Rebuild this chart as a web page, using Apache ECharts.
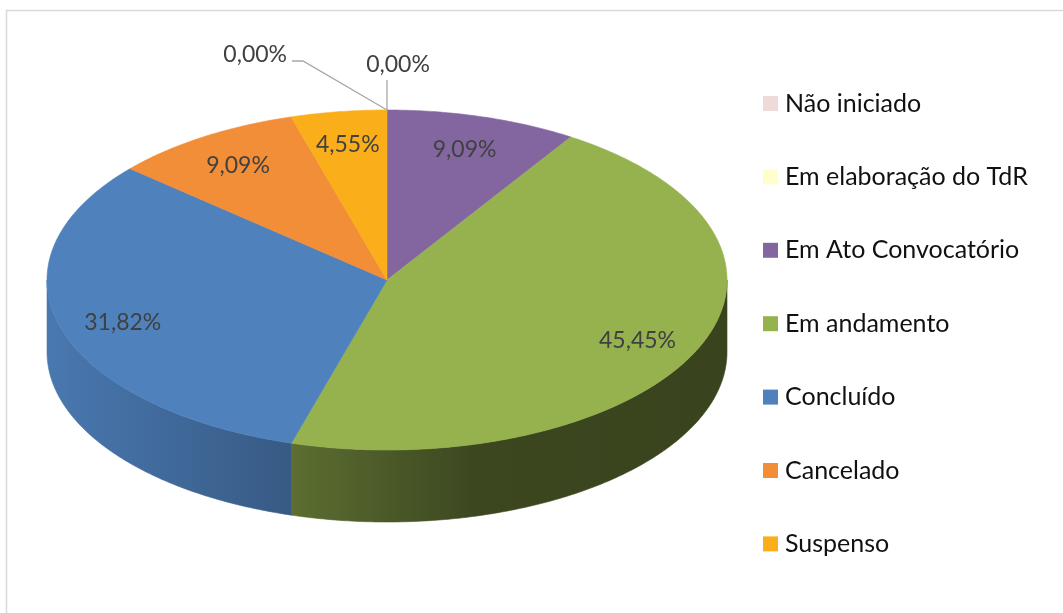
<!DOCTYPE html>
<html>
<head>
<meta charset="utf-8">
<script src="https://cdn.jsdelivr.net/npm/echarts@6/dist/echarts.min.js"></script>
<style>
html,body{margin:0;padding:0;background:#fff;}
#chart{width:1063px;height:613px;}
</style>
</head>
<body>
<div id="chart"></div>
<script>
// ---- data ----
const categories = ['Não iniciado', 'Em elaboração do TdR', 'Em Ato Convocatório', 'Em andamento', 'Concluído', 'Cancelado', 'Suspenso'];
const shares = [0, 0, 9.09, 45.45, 31.82, 9.09, 4.55];

// ---- styles ----
const colors = ['#F0D9D9', '#FFFFCC', '#8366A0', '#95B24F', '#4F81BD', '#F28D38', '#FAAF1A'];
const sideShades = {
  'Em andamento': [[0, 0.62], [0.42, 0.40], [1, 0.38]],
  'Concluído': [[0, 0.93], [1, 0.70]]
};
const FONT = 'Lato, "Open Sans", sans-serif';

function shade(hex, f) {
  const n = parseInt(hex.slice(1), 16);
  const r = Math.round(((n >> 16) & 255) * f);
  const g = Math.round(((n >> 8) & 255) * f);
  const b = Math.round((n & 255) * f);
  return 'rgb(' + r + ',' + g + ',' + b + ')';
}
function fmt(v) {
  return v.toFixed(2).replace('.', ',') + '%';
}

const total = shares.reduce((a, b) => a + b, 0);
const GEO = { cx: 387, cy: 280, rx: 340, ry: 170, depth: 72 };

function renderSlice(params, api) {
  const i = params.seriesIndex;
  const v = api.value(0);
  let before = 0;
  for (let j = 0; j < i; j++) before += shares[j];
  const a0 = before / total * Math.PI * 2;
  const a1 = (before + v) / total * Math.PI * 2;
  const { cx, cy, rx, ry, depth } = GEO;
  const pt = (t) => [cx + rx * Math.sin(t), cy - ry * Math.cos(t)];
  const color = api.visual('color');
  const children = [];

  if (v > 0) {
    // side (front half only)
    const s = Math.max(a0, Math.PI / 2), e = Math.min(a1, Math.PI * 3 / 2);
    if (s < e) {
      const n = Math.max(8, Math.ceil((e - s) / 0.01));
      const top = [], bot = [];
      for (let k = 0; k <= n; k++) {
        const p = pt(s + (e - s) * k / n);
        top.push(p);
        bot.push([p[0], p[1] + depth]);
      }
      const xsA = top.map(p => p[0]);
      const xl = Math.min.apply(null, xsA), xr = Math.max.apply(null, xsA);
      const stops = (sideShades[categories[i]] || [[0, 0.8], [1, 0.6]])
        .map(st => ({ offset: st[0], color: shade(colors[i], st[1]) }));
      const fill = { type: 'linear', x: xl, y: 0, x2: xr, y2: 0, global: true, colorStops: stops };
      children.push({
        type: 'polygon',
        z2: 1,
        shape: { points: top.concat(bot.reverse()) },
        style: { fill: fill, stroke: fill, lineWidth: 0.6 }
      });
    }
    // top face
    const n2 = Math.max(8, Math.ceil((a1 - a0) / 0.01));
    const pts = [[cx, cy]];
    for (let k = 0; k <= n2; k++) pts.push(pt(a0 + (a1 - a0) * k / n2));
    children.push({
      type: 'polygon',
      z2: 5,
      shape: { points: pts },
      style: { fill: color, stroke: color, lineWidth: 0.6 }
    });
    // label
    const m = (a0 + a1) / 2;
    children.push({
      type: 'text',
      z2: 100,
      x: cx + 0.81 * rx * Math.sin(m),
      y: cy - 0.82 * ry * Math.cos(m) + 3,
      style: {
        text: fmt(v), fill: '#404040', font: '23px ' + FONT,
        align: 'center', verticalAlign: 'middle'
      }
    });
  } else {
    // zero-value slice: label outside with leader line
    let k = 0;
    for (let j = 0; j < i; j++) if (shares[j] === 0) k++;
    const anchor = pt(a0);
    const layouts = [
      { line: [[0, 0], [-84, -49], [-95, -49]], tx: -100, ty: -55, align: 'right' },
      { line: [[0, 0], [0, -30]], tx: 11, ty: -45, align: 'center' }
    ];
    const L = layouts[k % layouts.length];
    children.push({
      type: 'polyline',
      z2: 90,
      shape: { points: L.line.map(p => [anchor[0] + p[0], anchor[1] + p[1]]) },
      style: { stroke: '#A6A6A6', lineWidth: 1.3, fill: null }
    });
    children.push({
      type: 'text',
      z2: 100,
      x: anchor[0] + L.tx,
      y: anchor[1] + L.ty,
      style: {
        text: fmt(v), fill: '#404040', font: '23px ' + FONT,
        align: L.align, verticalAlign: 'middle'
      }
    });
  }
  return { type: 'group', children: children };
}

const chart = echarts.init(document.getElementById('chart'), null, { renderer: 'canvas' });
chart.setOption({
  backgroundColor: '#ffffff',
  animation: false,
  graphic: [{
    type: 'rect',
    shape: { x: 6.5, y: 10.5, width: 1100, height: 700 },
    style: { fill: null, stroke: '#D9D9D9', lineWidth: 1.5 },
    silent: true
  }],
  legend: {
    orient: 'vertical',
    left: 763,
    top: 91,
    padding: 0,
    icon: 'rect',
    itemWidth: 15,
    itemHeight: 15,
    itemGap: 48.4,
    data: categories,
    textStyle: { fontFamily: FONT, fontSize: 25, color: '#111111', lineHeight: 24, padding: [0, 0, 0, 2] }
  },
  series: categories.map((name, i) => ({
    type: 'custom',
    name: name,
    coordinateSystem: 'none',
    itemStyle: { color: colors[i] },
    renderItem: renderSlice,
    data: [{ name: name, value: shares[i] }]
  }))
});
</script>
</body>
</html>
